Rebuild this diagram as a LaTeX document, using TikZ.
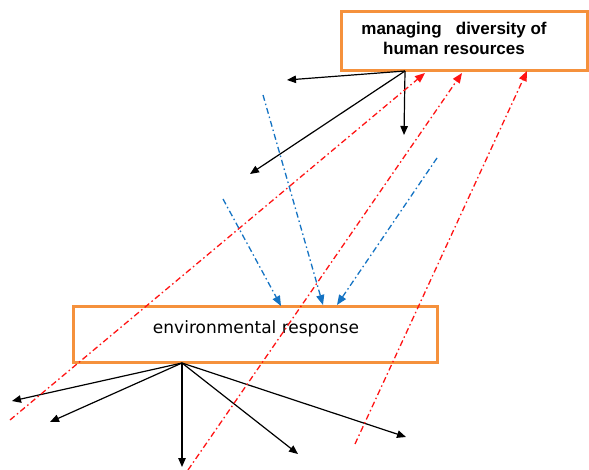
\documentclass[tikz,border=0pt]{standalone}
\usepackage{fontspec}
\setmainfont{Liberation Sans}
\newfontfamily\djv{DejaVu Sans}
\usetikzlibrary{arrows.meta}
\definecolor{boxorange}{RGB}{245,145,60}
\definecolor{arrred}{RGB}{255,20,20}
\definecolor{arrblue}{RGB}{20,115,195}
\begin{document}
\begin{tikzpicture}[x=1pt,y=-1pt,
  box/.style={draw=boxorange, line width=3pt, rectangle, inner sep=0pt},
  blk/.style={draw=black, line width=1.2pt, -{Triangle[length=9pt,width=7.5pt]}},
  dd/.style={line width=1.3pt, dash pattern=on 6pt off 3pt on 1.5pt off 3pt, -{Triangle[length=10pt,width=8pt]}},
  redl/.style={dd, draw=arrred},
  bluel/.style={dd, draw=arrblue}
]
\useasboundingbox (0,0) rectangle (589,470);

% boxes
\node[box, minimum width=246pt, minimum height=59pt] (top) at (464,41.5) {};
\node[box, minimum width=364pt, minimum height=55pt] (bot) at (255,334.5) {};
\node[align=center, font=\bfseries\fontsize{17}{20}\selectfont, inner sep=0pt] (toptext) at (454,38) {managing\ \ \ diversity of\\human resources};
\node[font=\djv\fontsize{17}{20}\selectfont, inner sep=0pt] (bottext) at (256,329) {environmental response};

% origins
\coordinate (o1) at (405,71);
\coordinate (o2) at (182,363);

% black arrows from top box
\coordinate (t1) at (287,80);
\coordinate (t2) at (404,135);
\coordinate (t3) at (250,174);
\draw[blk] (o1) -- (t1);
\draw[blk] (o1) -- (t2);
\draw[blk] (o1) -- (t3);

% black arrows from bottom box
\coordinate (b1) at (12,401);
\coordinate (b2) at (50,422);
\coordinate (b3) at (182,467);
\coordinate (b4) at (298,454);
\coordinate (b5) at (406,437);
\draw[blk] (o2) -- (b1);
\draw[blk] (o2) -- (b2);
\draw[blk] (o2) -- (b3);
\draw[blk] (o2) -- (b4);
\draw[blk] (o2) -- (b5);

% red dash-dot arrows to top box
\coordinate (r1s) at (10,420);
\coordinate (r1e) at (425,73);
\coordinate (r2s) at (188,470);
\coordinate (r2e) at (462,73);
\coordinate (r3s) at (355,444);
\coordinate (r3e) at (527,71);
\draw[redl] (r1s) -- (r1e);
\draw[redl] (r2s) -- (r2e);
\draw[redl] (r3s) -- (r3e);

% blue dash-dot arrows to bottom box
\coordinate (u1s) at (263,95);
\coordinate (u1e) at (323,305);
\coordinate (u2s) at (223,199);
\coordinate (u2e) at (281,306);
\coordinate (u3s) at (437,158);
\coordinate (u3e) at (337,305);
\draw[bluel] (u1s) -- (u1e);
\draw[bluel] (u2s) -- (u2e);
\draw[bluel] (u3s) -- (u3e);
\end{tikzpicture}
\end{document}
